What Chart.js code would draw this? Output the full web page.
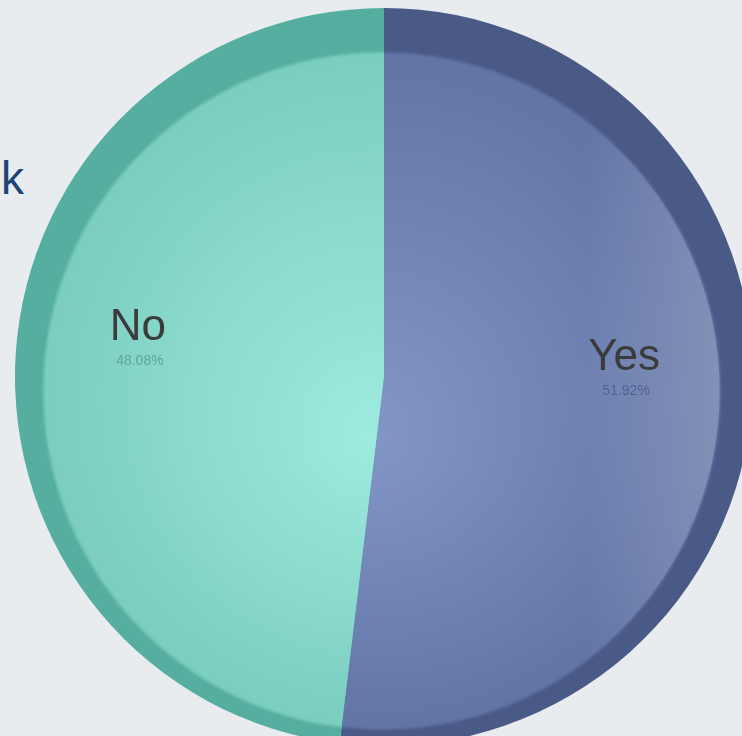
<!DOCTYPE html>
<html>
<head>
<meta charset="utf-8">
<script src="https://cdn.jsdelivr.net/npm/chart.js@4.4.1/dist/chart.umd.min.js"></script>
<style>
  html, body { margin: 0; padding: 0; background: #e8ecef; overflow: hidden; width: 742px; height: 736px; }
  #wrap { position: absolute; left: 0; top: 0; width: 768px; height: 754px; }
  #side { position: absolute; left: 1px; top: 155px; font-family: "Liberation Sans", Arial, sans-serif; font-size: 46px; line-height: 1; color: #1d4472; }
</style>
</head>
<body>
<div id="side">k</div>
<div id="wrap"><canvas id="c" width="768" height="754"></canvas></div>
<script>
// Survey answers and their shares
const answers = ['Yes', 'No'];
const shares = [51.92, 48.08];

// Slice shading: centre highlight, body, outer rim
const centreColors = ['#8396c8', '#9eeadf'];
const bodyColors = ['#6275a7', '#7bcec0'];
const rimColors = ['#4a5a87', '#55ae9f'];

function pieGeometry(chart) {
  const area = chart.chartArea;
  const cx = (area.left + area.right) / 2;
  const cy = (area.top + area.bottom) / 2;
  const r = Math.min(area.right - area.left, area.bottom - area.top) / 2;
  return { cx, cy, r };
}

// Lit face of each slice: a disc set slightly below the centre,
// leaving a darker rim that is widest at the top
const litFace = {
  id: 'litFace',
  afterDatasetsDraw(chart) {
    const ctx = chart.ctx;
    const { cx, cy, r } = pieGeometry(chart);
    const fx = cx - 2, fy = cy + 14, fr = r * 0.918;
    chart.getDatasetMeta(0).data.forEach((arc, i) => {
      const p = arc.getProps(['startAngle', 'endAngle'], true);
      ctx.save();
      ctx.beginPath();
      ctx.moveTo(cx, cy);
      ctx.arc(cx, cy, r, p.startAngle, p.endAngle);
      ctx.closePath();
      ctx.clip();
      ctx.filter = 'blur(1.5px)';
      const g = ctx.createRadialGradient(cx - 15, cy + 60, 0, fx, fy, fr);
      g.addColorStop(0, centreColors[i]);
      g.addColorStop(0.97, bodyColors[i]);
      g.addColorStop(1, bodyColors[i]);
      ctx.fillStyle = g;
      ctx.beginPath();
      ctx.arc(fx, fy, fr, 0, Math.PI * 2);
      ctx.fill();
      ctx.restore();
    });
    // soft sheen along the right inner edge
    ctx.save();
    ctx.beginPath();
    ctx.arc(fx, fy, fr - 1, -Math.PI / 2, Math.PI / 2);
    ctx.closePath();
    ctx.clip();
    const s = ctx.createLinearGradient(fx + fr * 0.6, 0, fx + fr, 0);
    s.addColorStop(0, 'rgba(200,205,215,0)');
    s.addColorStop(1, 'rgba(200,205,215,0.32)');
    ctx.fillStyle = s;
    ctx.fillRect(fx, fy - fr, fr, fr * 2);
    ctx.restore();
  }
};

// Name and percentage drawn inside each slice
const sliceLabels = {
  id: 'sliceLabels',
  afterDatasetsDraw(chart) {
    const ctx = chart.ctx;
    const meta = chart.getDatasetMeta(0);
    meta.data.forEach((arc, i) => {
      const p = arc.getProps(['x', 'y', 'startAngle', 'endAngle', 'outerRadius'], true);
      const mid = (p.startAngle + p.endAngle) / 2;
      const rr = p.outerRadius * 0.66;
      const x = p.x + Math.cos(mid) * rr - 3;
      const y = p.y + Math.sin(mid) * rr - 34;
      ctx.save();
      ctx.textAlign = 'center';
      ctx.textBaseline = 'middle';
      ctx.fillStyle = '#3b3b3b';
      ctx.font = '44px "Liberation Sans", Arial, sans-serif';
      ctx.fillText(answers[i], x, y);
      ctx.fillStyle = i === 0 ? '#4f618f' : '#62a59b';
      ctx.font = '14px "Liberation Sans", Arial, sans-serif';
      ctx.fillText(shares[i].toFixed(2) + '%', x + 2, y + 33);
      ctx.restore();
    });
  }
};

new Chart(document.getElementById('c'), {
  type: 'pie',
  data: {
    labels: answers,
    datasets: [{
      data: shares,
      backgroundColor: rimColors,
      borderWidth: 0
    }]
  },
  options: {
    responsive: false,
    animation: false,
    layout: { padding: 8 },
    plugins: {
      legend: { display: false },
      tooltip: { enabled: false }
    }
  },
  plugins: [litFace, sliceLabels]
});
</script>
</body>
</html>
